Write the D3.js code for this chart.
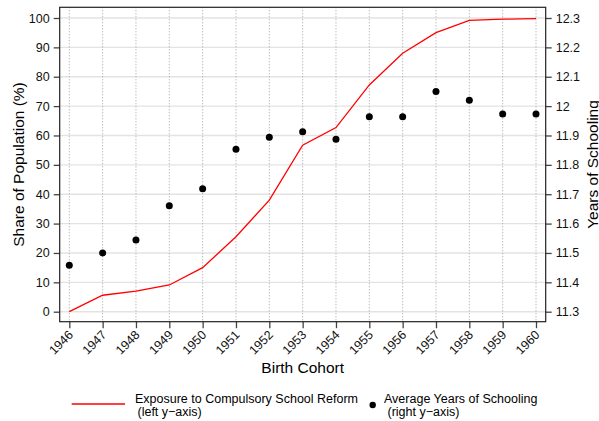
<!DOCTYPE html>
<html>
<head>
<meta charset="utf-8">
<script src="https://cdn.jsdelivr.net/npm/d3@7"></script>
<style>
    body { margin: 0; background: #fff; }
    svg { display: block; font-family: "Liberation Sans", Arial, Helvetica, sans-serif; }
</style>
</head>
<body>
<div id="chart"></div>
<script>
var cohorts = [1946, 1947, 1948, 1949, 1950, 1951, 1952, 1953, 1954, 1955, 1956, 1957, 1958, 1959, 1960];
var exposureShare = [0, 5.6, 7.0, 9.1, 15.0, 25.5, 38.0, 56.7, 62.7, 77.2, 88.0, 95.0, 99.2, 99.6, 99.8];
var avgSchooling = [11.458, 11.500, 11.544, 11.661, 11.719, 11.853, 11.894, 11.913, 11.887, 11.964, 11.964, 12.050, 12.020, 11.973, 11.973];
var leftTicks = [0, 10, 20, 30, 40, 50, 60, 70, 80, 90, 100];
var rightTicks = [11.3, 11.4, 11.5, 11.6, 11.7, 11.8, 11.9, 12.0, 12.1, 12.2, 12.3];

var width = 599, height = 421;
var box = {left: 59.7, right: 545.7, top: 7.3, bottom: 321.7};

var svg = d3.select('#chart').append('svg')
    .attr('width', width)
    .attr('height', height);

var x = d3.scaleLinear().domain([1946, 1960]).range([69.3, 536]);
var yLeft = d3.scaleLinear().domain([0, 100]).range([311.7, 18]);
var yRight = d3.scaleLinear().domain([11.3, 12.3]).range([311.7, 18]);

// horizontal grid
svg.append('g').selectAll('line')
    .data(leftTicks)
    .enter()
    .append('line')
    .attr('x1', box.left).attr('x2', box.right)
    .attr('y1', function (d) { return yLeft(d); })
    .attr('y2', function (d) { return yLeft(d); })
    .attr('stroke', '#e3e3e3')
    .attr('stroke-width', 1.4);

// vertical dotted grid
svg.append('g').selectAll('line')
    .data(cohorts)
    .enter()
    .append('line')
    .attr('x1', function (d) { return x(d); })
    .attr('x2', function (d) { return x(d); })
    .attr('y1', box.top).attr('y2', box.bottom)
    .attr('stroke', '#a0a0a0')
    .attr('stroke-width', 1)
    .attr('stroke-dasharray', '1,2');

// axes
var leftAxis = d3.axisLeft(yLeft).tickValues(leftTicks).tickSize(6).tickPadding(4).tickFormat(d3.format('d'));
var rightAxis = d3.axisRight(yRight).tickValues(rightTicks).tickSize(6).tickPadding(4)
    .tickFormat(function (d) { return String(+d.toFixed(1)); });
var bottomAxis = d3.axisBottom(x).tickValues(cohorts).tickSize(6.5).tickFormat(d3.format('d'));

var styleAxis = function (g) {
    g.select('.domain').remove();
    g.selectAll('.tick line').attr('stroke', '#444').attr('stroke-width', 1.3);
    g.selectAll('.tick text').attr('fill', '#111').style('font-size', '12.5px');
};

svg.append('g').attr('transform', 'translate(' + box.left + ',0)').call(leftAxis).call(styleAxis);
svg.append('g').attr('transform', 'translate(' + box.right + ',0)').call(rightAxis).call(styleAxis);
svg.append('g').attr('transform', 'translate(0,' + box.bottom + ')').call(bottomAxis).call(styleAxis)
    .selectAll('.tick text')
    .attr('text-anchor', 'end')
    .attr('x', 0)
    .attr('y', 0)
    .attr('dy', '0')
    .attr('transform', 'translate(4,14) rotate(-45)');

// frame
svg.append('rect')
    .attr('x', box.left).attr('y', box.top)
    .attr('width', box.right - box.left).attr('height', box.bottom - box.top)
    .attr('fill', 'none')
    .attr('stroke', '#222')
    .attr('stroke-width', 1.2);

// red exposure line
var line = d3.line()
    .x(function (d, i) { return x(cohorts[i]); })
    .y(function (d) { return yLeft(d); });

svg.append('path')
    .datum(exposureShare)
    .attr('d', line)
    .attr('fill', 'none')
    .attr('stroke', '#ff0000')
    .attr('stroke-width', 1.3);

// schooling dots
svg.append('g').selectAll('circle')
    .data(avgSchooling)
    .enter()
    .append('circle')
    .attr('cx', function (d, i) { return x(cohorts[i]); })
    .attr('cy', function (d) { return yRight(d); })
    .attr('r', 3.5)
    .attr('fill', '#000');

// axis titles
svg.append('text')
    .attr('x', (box.left + box.right) / 2).attr('y', 372.5)
    .attr('text-anchor', 'middle')
    .style('font-size', '15.5px')
    .text('Birth Cohort');

svg.append('text')
    .attr('transform', 'translate(23.5,' + ((box.top + box.bottom) / 2) + ') rotate(-90)')
    .attr('text-anchor', 'middle')
    .style('font-size', '15.5px')
    .text('Share of Population (%)');

svg.append('text')
    .attr('transform', 'translate(597.5,' + ((box.top + box.bottom) / 2) + ') rotate(-90)')
    .attr('text-anchor', 'middle')
    .style('font-size', '15.5px')
    .text('Years of Schooling');

// legend
var legend = svg.append('g').style('font-size', '12.5px');
legend.append('line')
    .attr('x1', 71.7).attr('x2', 125)
    .attr('y1', 404).attr('y2', 404)
    .attr('stroke', '#ff0000').attr('stroke-width', 1.3);
legend.append('text').attr('x', 135).attr('y', 402.5).text('Exposure to Compulsory School Reform');
legend.append('text').attr('x', 137.5).attr('y', 415.5).text('(left y\u2212axis)');
legend.append('circle').attr('cx', 372.7).attr('cy', 405).attr('r', 3.2).attr('fill', '#000');
legend.append('text').attr('x', 384).attr('y', 402.5).text('Average Years of Schooling');
legend.append('text').attr('x', 387.5).attr('y', 415.5).text('(right y\u2212axis)');
</script>
</body>
</html>
